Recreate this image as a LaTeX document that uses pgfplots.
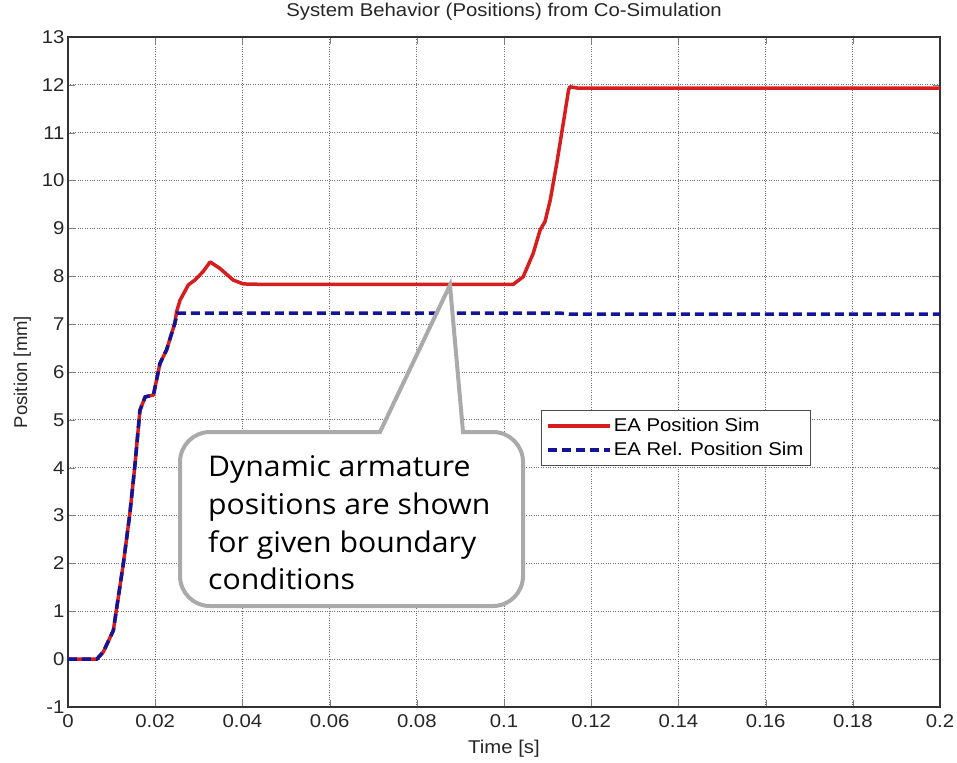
\documentclass[border=0pt]{standalone}
\usepackage{pgfplots}
\pgfplotsset{compat=1.18}
\usepackage{fontspec}
\setmainfont{Liberation Sans}[FakeStretch=1.1]
\newfontfamily\plainfont{Liberation Sans}
\newfontfamily\calloutfont{Open Sans}[FakeStretch=1.06]
\definecolor{eared}{RGB}{215,30,30}
\definecolor{eablue}{RGB}{20,20,150}
\definecolor{callgray}{RGB}{170,170,170}
\begin{document}
\begin{tikzpicture}[x=1pt,y=1pt]
\useasboundingbox (-68,-55) rectangle (889,707);
\begin{axis}[
  at={(0,0)}, anchor=south west,
  scale only axis, width=872pt, height=670pt,
  xmin=0, xmax=0.2, ymin=-1, ymax=13,
  xtick={0,0.02,...,0.2}, ytick={-1,0,...,13},
  xticklabel style={/pgf/number format/fixed,/pgf/number format/precision=2, yshift=-4pt},
  /pgf/number format/assume math mode=true,
  tick label style={font=\fontsize{18.5}{18.5}\selectfont, text=black!85},
  tick align=inside, major tick length=7pt,
  xtick pos=both, ytick pos=both,
  grid=major,
  major grid style={dotted, black!55, line width=0.8pt},
  axis line style={black!80, line width=1.1pt},
  title={System Behavior (Positions) from Co-Simulation},
  title style={font=\fontsize{18.5}{18.5}\selectfont, text=black!85, at={(axis description cs:0.5,1)}, anchor=base, yshift=14pt},
  xlabel={Time [s]},
  xlabel style={font=\fontsize{18.5}{18.5}\selectfont, text=black!85, at={(axis description cs:0.5,0)}, anchor=base, yshift=-46pt},
  ylabel={Position [mm]},
  ylabel style={font=\plainfont\fontsize{18.5}{18.5}\selectfont, text=black!85, at={(axis description cs:-0.047,0.5)}, anchor=base},
  legend style={at={(axis cs:0.1085,5.2)}, anchor=north west, draw=black!70, fill=white,
    font=\fontsize{18.5}{18.5}\selectfont, row sep=3pt, inner xsep=5pt, inner ysep=5pt,
    nodes={inner ysep=3pt},
    /tikz/every even column/.append style={column sep=4pt}},
  legend cell align=left,
  legend image code/.code={\draw[#1] (0pt,0pt) -- (62pt,0pt);},
]
\addplot[eared, line width=3.5pt, line join=round] coordinates {
(0,0) (0.0066,0) (0.0081,0.15) (0.0104,0.6) (0.0127,2.0) (0.0142,3.05) (0.0154,4.1)
(0.0165,5.2) (0.0177,5.48) (0.0196,5.52) (0.0211,6.18) (0.0226,6.46) (0.0245,7.02)
(0.0249,7.26) (0.0257,7.5) (0.0276,7.82) (0.0291,7.92) (0.031,8.1) (0.0326,8.3)
(0.0349,8.16) (0.0379,7.92) (0.0402,7.84) (0.045,7.83) (0.1021,7.83) (0.1044,7.99)
(0.1067,8.48) (0.1083,8.97) (0.1094,9.14) (0.1106,9.59) (0.1121,10.36) (0.1136,11.2)
(0.1148,11.89) (0.1151,11.96) (0.117,11.93) (0.2,11.93)
};
\addlegendentry{EA Position Sim}
\addplot[eablue, line width=3.5pt, dash pattern=on 9pt off 5pt] coordinates {
(0,0) (0.0066,0) (0.0081,0.15) (0.0104,0.6) (0.0127,2.0) (0.0142,3.05) (0.0154,4.1)
(0.0165,5.2) (0.0177,5.48) (0.0196,5.52) (0.0211,6.18) (0.0226,6.46) (0.0245,7.02)
(0.0251,7.23) (0.113,7.23) (0.115,7.21) (0.2,7.21)
};
\addlegendentry{EA Rel. Position Sim}
\draw[callgray, line width=4pt, fill=white]
  (axis cs:0.02569,1.110) [rounded corners=30pt] -- (axis cs:0.02569,4.746) [sharp corners]
  -- (axis cs:0.07156,4.746) -- (axis cs:0.08761,7.817)
  -- (axis cs:0.0906,4.746) [rounded corners=30pt] -- (axis cs:0.10436,4.746)
  -- (axis cs:0.10436,1.110) -- cycle;
\node[anchor=base west, inner sep=0pt, font=\calloutfont\fontsize{28.5}{28.5}\selectfont] at (axis cs:0.03211,3.806) {Dynamic armature};
\node[anchor=base west, inner sep=0pt, font=\calloutfont\fontsize{28.5}{28.5}\selectfont] at (axis cs:0.03211,3.012) {positions are shown};
\node[anchor=base west, inner sep=0pt, font=\calloutfont\fontsize{28.5}{28.5}\selectfont] at (axis cs:0.03211,2.218) {for given boundary};
\node[anchor=base west, inner sep=0pt, font=\calloutfont\fontsize{28.5}{28.5}\selectfont] at (axis cs:0.03211,1.445) {conditions};
\end{axis}
\end{tikzpicture}
\end{document}
